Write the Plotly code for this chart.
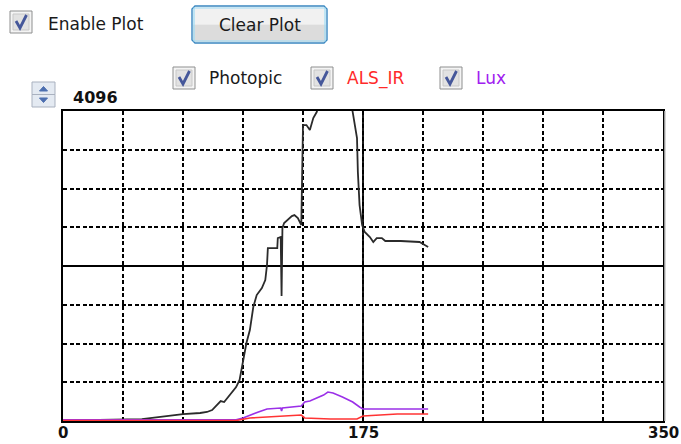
import plotly.graph_objects as go

# ---------------- data ----------------
X_MAX = 350
Y_MAX = 4096
x_ticks = [0, 35, 70, 105, 140, 175, 210, 245, 280, 315, 350]
x_tick_text = ["0", "", "", "", "", "175", "", "", "", "", "350"]
y_ticks = [0, 512, 1024, 1536, 2048, 2560, 3072, 3584, 4096]

photopic_x = [0, 21, 46, 56, 70, 80, 84, 87, 90, 92, 94, 96, 99, 101, 103, 105, 107, 109,
              111, 113, 116, 118, 119, 119.5, 122, 125, 125.3, 127, 127.5, 128, 129, 131,
              133.5, 135, 137, 139, 140, 142, 144, 146, 148, 150, 154, 158, 162, 166, 169,
              171.5, 172, 173, 174.5, 176, 179, 181, 183, 186, 188, 197, 208, 211, 213]
photopic_y = [13, 13, 26, 53, 92, 106, 119, 145, 211, 264, 251, 304, 383, 449, 542, 766, 1030, 1202,
              1506, 1664, 1757, 1863, 2061, 2285, 2285, 2285, 2417, 2431, 1651, 2550, 2616, 2655,
              2708, 2721, 2682, 2589, 3910, 3910, 3844, 4003, 4082, 4240, 4600, 4800, 4700, 4400, 4082,
              3738, 3289, 2853, 2589, 2497, 2431, 2365, 2417, 2417, 2378, 2378, 2365, 2325, 2298]

lux_x = [0, 101, 105, 109, 114, 119, 127, 127.5, 128, 139, 141, 144, 148, 152, 154.5,
         157.5, 163, 169, 173, 175, 197, 213]
lux_y = [15, 15, 40, 79, 119, 159, 172, 132, 172, 198, 251, 264, 304, 343, 383,
         370, 317, 251, 185, 159, 159, 159]

als_ir_x = [0, 101, 109, 119, 139, 141, 156, 171.5, 175, 185, 195, 213]
als_ir_y = [6, 6, 40, 53, 79, 40, 26, 26, 66, 79, 92, 92]

series_names = ["Photopic", "ALS_IR", "Lux"]
series_colors = ["#2b2b2b", "#ff3434", "#9b30e8"]
label_colors = ["#1a1a1a", "#ff2a2a", "#a020f0"]

# ---------------- layout geometry (pixels) ----------------
W, H = 681, 444
PL, PR, PT, PB = 63, 663, 111, 421
FONT = "DejaVu Sans"


def px(x):
    return (x - PL) / (PR - PL)


def py(y):
    return (PB - y) / (PB - PT)


fig = go.Figure()
fig.add_trace(go.Scatter(x=photopic_x, y=photopic_y, mode="lines", name=series_names[0],
                         line=dict(color=series_colors[0], width=1.8)))
fig.add_trace(go.Scatter(x=lux_x, y=lux_y, mode="lines", name=series_names[2],
                         line=dict(color=series_colors[2], width=1.6)))
fig.add_trace(go.Scatter(x=als_ir_x, y=als_ir_y, mode="lines", name=series_names[1],
                         line=dict(color=series_colors[1], width=1.6)))

shapes = []
annotations = []

# solid centre lines
shapes.append(dict(type="line", xref="x", yref="paper", x0=X_MAX / 2, x1=X_MAX / 2, y0=0, y1=1,
                   line=dict(color="black", width=1.8), layer="below"))
shapes.append(dict(type="line", xref="paper", yref="y", x0=0, x1=1, y0=Y_MAX / 2, y1=Y_MAX / 2,
                   line=dict(color="black", width=1.8), layer="below"))
# right shadow
shapes.append(dict(type="line", xref="paper", yref="paper", x0=px(PR + 2), x1=px(PR + 2),
                   y0=py(PB), y1=py(PT), line=dict(color="#c8c8c8", width=1.5)))


def rect(x0, y0, x1, y1, fill, line, lw=1):
    shapes.append(dict(type="rect", xref="paper", yref="paper", x0=px(x0), x1=px(x1),
                       y0=py(y1), y1=py(y0), fillcolor=fill,
                       line=dict(color=line, width=lw)))


def path(points, color, width, fill=None, closed=False):
    d = "M " + " L ".join(f"{px(a):.5f},{py(b):.5f}" for a, b in points)
    if closed:
        d += " Z"
    shapes.append(dict(type="path", xref="paper", yref="paper", path=d,
                       fillcolor=fill if fill else "rgba(0,0,0,0)",
                       line=dict(color=color, width=width)))


def checkbox(x0, y0, s=22):
    rect(x0, y0, x0 + s, y0 + s, "#f4f4f4", "#8e8f8f", 1)
    rect(x0 + 3, y0 + 3, x0 + s - 3, y0 + s - 3, "#e2e2e2", "#c8c8c8", 1)
    path([(x0 + 6, y0 + 10), (x0 + 10, y0 + 17), (x0 + 16.5, y0 + 4)], "#45579a", 2.8)


def text(x, y, s, size, color="#1a1a1a", bold=False, anchor="left"):
    annotations.append(dict(xref="paper", yref="paper", x=px(x), y=py(y), text=s,
                            showarrow=False, xanchor=anchor, yanchor="middle",
                            font=dict(family=FONT, size=size, color=color,
                                      weight="bold" if bold else "normal")))


# Enable Plot checkbox
checkbox(10, 11)
text(46, 24, "Enable Plot", 17)

# Clear Plot button
bx0, by0, bx1, by1, r = 192, 6, 327, 43, 3
rect(bx0 + 1, by0 + 1, bx1 - 1, (by0 + by1) / 2, "#f1f1f1", "rgba(0,0,0,0)", 0)
rect(bx0 + 1, (by0 + by1) / 2, bx1 - 1, by1 - 1, "#dcdcdc", "rgba(0,0,0,0)", 0)
path([(bx0 + r, by0), (bx1 - r, by0), (bx1, by0 + r), (bx1, by1 - r), (bx1 - r, by1),
      (bx0 + r, by1), (bx0, by1 - r), (bx0, by0 + r)], "#3a87c0", 1.4, closed=True)
path([(bx0 + 2, by0 + 2), (bx1 - 2, by0 + 2), (bx1 - 2, by1 - 2), (bx0 + 2, by1 - 2)],
     "#9fdcf5", 1.2, closed=True)
text((bx0 + bx1) / 2, 25, "Clear Plot", 17, anchor="center")

# legend-like checkboxes
checkbox(173, 67)
text(207, 78, series_names[0], 17, label_colors[0])
checkbox(311, 67)
text(345, 78, series_names[1], 17, label_colors[1])
checkbox(440, 67)
text(474, 78, series_names[2], 17, label_colors[2])

# spinner + max label
rect(32, 82, 55, 94.5, "#e4eaf2", "#a9b1bf", 1)
rect(32, 94.5, 55, 107, "#e4eaf2", "#a9b1bf", 1)
path([(39.5, 91), (47.5, 91), (43.5, 86.5)], "#4d6fb0", 1, fill="#4d6fb0", closed=True)
path([(39.5, 98), (47.5, 98), (43.5, 102.5)], "#4d6fb0", 1, fill="#4d6fb0", closed=True)
text(71, 97, str(Y_MAX), 16, "#111111", bold=True)

# x tick labels (drawn as annotations at the tick values so they sit tight under the axis)
for tv, tt in zip(x_ticks, x_tick_text):
    if tt:
        annotations.append(dict(xref="x", yref="paper", x=tv, y=py(433), text=tt,
                                showarrow=False, xanchor="center", yanchor="middle",
                                font=dict(family=FONT, size=15, color="#111111", weight="bold")))

fig.update_layout(
    width=W, height=H,
    margin=dict(l=PL, r=W - PR, t=PT, b=H - PB, pad=0),
    paper_bgcolor="white", plot_bgcolor="white",
    showlegend=False,
    shapes=shapes, annotations=annotations,
    font=dict(family=FONT),
)
fig.update_xaxes(range=[0, X_MAX], tickvals=x_ticks, showticklabels=False, automargin=False,
                 showgrid=True, gridcolor="black", gridwidth=1.7, griddash="4px,2.5px",
                 showline=True, linecolor="black", linewidth=2, mirror=True,
                 zeroline=False, ticks="", fixedrange=True)
fig.update_yaxes(range=[0, Y_MAX], tickvals=y_ticks, showticklabels=False, automargin=False,
                 showgrid=True, gridcolor="black", gridwidth=1.7, griddash="4px,2.5px",
                 showline=True, linecolor="black", linewidth=2, mirror=True,
                 zeroline=False, ticks="", fixedrange=True)

fig.write_html("out.html", config={"displayModeBar": False},
               post_script="document.body.style.margin='0';document.body.style.overflow='hidden';")
